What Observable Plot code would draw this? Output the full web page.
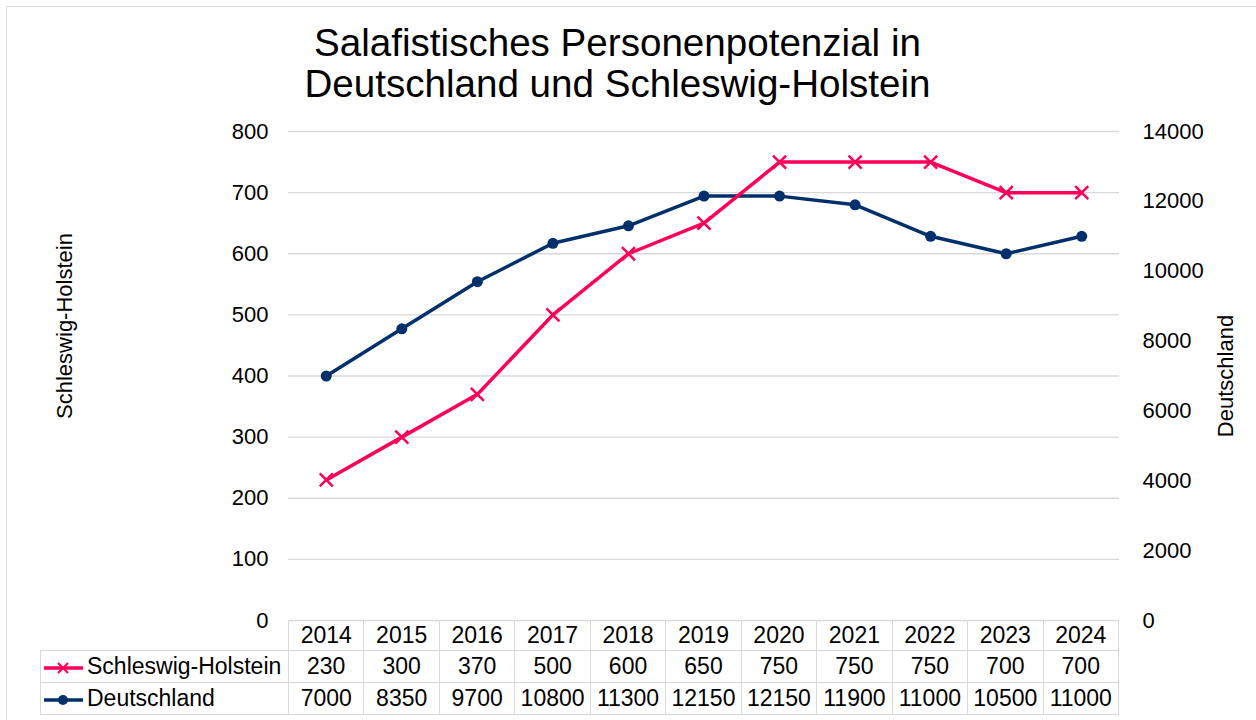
<!DOCTYPE html>
<html><head><meta charset="utf-8">
<script src="https://cdn.jsdelivr.net/npm/d3@7"></script>
<script src="https://cdn.jsdelivr.net/npm/@observablehq/plot@0.6"></script>
<style>
body{margin:0;background:#fff;font-family:"Liberation Sans",Arial,sans-serif;}
#wrap{position:relative;width:1256px;height:720px;overflow:hidden;background:#fff}
#frame{position:absolute;left:6px;top:6px;width:1300px;height:760px;border:1.5px solid #d9d9d9;box-sizing:border-box}
#title{position:absolute;left:0;width:1235px;top:22px;text-align:center;font-size:38.6px;line-height:41px;color:#000}
.ylab{position:absolute;font-size:22px;color:#000;white-space:nowrap;transform:translate(-50%,-50%) rotate(-90deg)}
#chart{position:absolute;left:0;top:0}
#tbl{position:absolute;left:40px;top:620px;border-collapse:collapse;table-layout:fixed;font-size:23px;color:#000}
#tbl td{border:1.5px solid #d9d9d9;padding:0;text-align:center;white-space:nowrap;overflow:hidden}
#tbl tr.h td{height:29px}
#tbl tr.r td{height:31px}
#tbl td.blank{border:none}
#tbl td.name{text-align:left}
#tbl td.name svg{vertical-align:middle;margin-right:2px}
</style></head><body>
<div id="wrap">
<div id="frame"></div>
<div id="title">Salafistisches Personenpotenzial in<br>Deutschland und Schleswig-Holstein</div>
<div id="chart"></div>
<div class="ylab" id="ylabL" style="left:65px;top:326px"></div>
<div class="ylab" id="ylabR" style="left:1226px;top:376px"></div>
<table id="tbl"></table>
</div>
<script>
const years = ["2014","2015","2016","2017","2018","2019","2020","2021","2022","2023","2024"];
const shValues = [230,300,370,500,600,650,750,750,750,700,700];
const deValues = [7000,8350,9700,10800,11300,12150,12150,11900,11000,10500,11000];
const leftTicks = [0,100,200,300,400,500,600,700,800];
const rightTicks = [0,2000,4000,6000,8000,10000,12000,14000];
const seriesNames = ["Schleswig-Holstein","Deutschland"];
const seriesColors = ["#ff0055","#00306b"];

const leftMax = 800, rightMax = 14000;
const toLeft = v => v * leftMax / rightMax;
const sh = years.map((y,i)=>({year:y, v:shValues[i]}));
const de = years.map((y,i)=>({year:y, v:toLeft(deValues[i])}));

document.getElementById("ylabL").textContent = seriesNames[0];
document.getElementById("ylabR").textContent = seriesNames[1];

const font = '"Liberation Sans", Arial, sans-serif';
const chart = Plot.plot({
  width:1256, height:720,
  marginTop:131, marginBottom:100, marginLeft:288, marginRight:137,
  style:{fontFamily:font, fontSize:"22px", color:"#000", background:"transparent", overflow:"visible"},
  x:{type:"point", domain:years, padding:0.5, round:false, axis:null},
  y:{domain:[0,leftMax], axis:null},
  marks:[
    Plot.gridY(leftTicks, {stroke:"#d9d9d9", strokeOpacity:1, strokeWidth:1.3}),
    Plot.axisY(leftTicks, {anchor:"left", tickSize:0, tickPadding:20, label:null, fill:"#000"}),
    Plot.axisY(rightTicks.map(toLeft), {anchor:"right", tickSize:0, tickPadding:23, label:null, fill:"#000",
      tickFormat: d => String(Math.round(d * rightMax / leftMax))}),
    Plot.line(de, {x:"year", y:"v", stroke:seriesColors[1], strokeWidth:3.5}),
    Plot.dot(de, {x:"year", y:"v", fill:seriesColors[1], r:5.5}),
    Plot.line(sh, {x:"year", y:"v", stroke:seriesColors[0], strokeWidth:3.5}),
    Plot.dot(sh, {x:"year", y:"v", symbol:"times", stroke:seriesColors[0], strokeWidth:2.5, r:6})
  ]
});
document.getElementById("chart").appendChild(chart);

// data table
const colW = 830 / years.length;
const tbl = d3.select("#tbl");
const cg = tbl.append("colgroup");
cg.append("col").style("width","248px");
years.forEach(()=>cg.append("col").style("width", colW+"px"));
tbl.style("width", (248 + 830) + "px");
const hr = tbl.append("tr").attr("class","h");
hr.append("td").attr("class","blank");
years.forEach(y => hr.append("td").text(y));
[[shValues,"x"],[deValues,"o"]].forEach(([vals,kind],si)=>{
  const tr = tbl.append("tr").attr("class","r");
  const td = tr.append("td").attr("class","name");
  const s = td.append("svg").attr("width",44).attr("height",20);
  s.append("line").attr("x1",3).attr("x2",42).attr("y1",10).attr("y2",10)
    .attr("stroke",seriesColors[si]).attr("stroke-width",3.5);
  if (kind==="x") {
    s.append("path").attr("d","M17,5L27,15M27,5L17,15").attr("stroke",seriesColors[si]).attr("stroke-width",2);
  } else {
    s.append("circle").attr("cx",22).attr("cy",10).attr("r",5).attr("fill",seriesColors[si]);
  }
  td.append("span").text(seriesNames[si]);
  vals.forEach(v => tr.append("td").text(v));
});
</script>
</body></html>
